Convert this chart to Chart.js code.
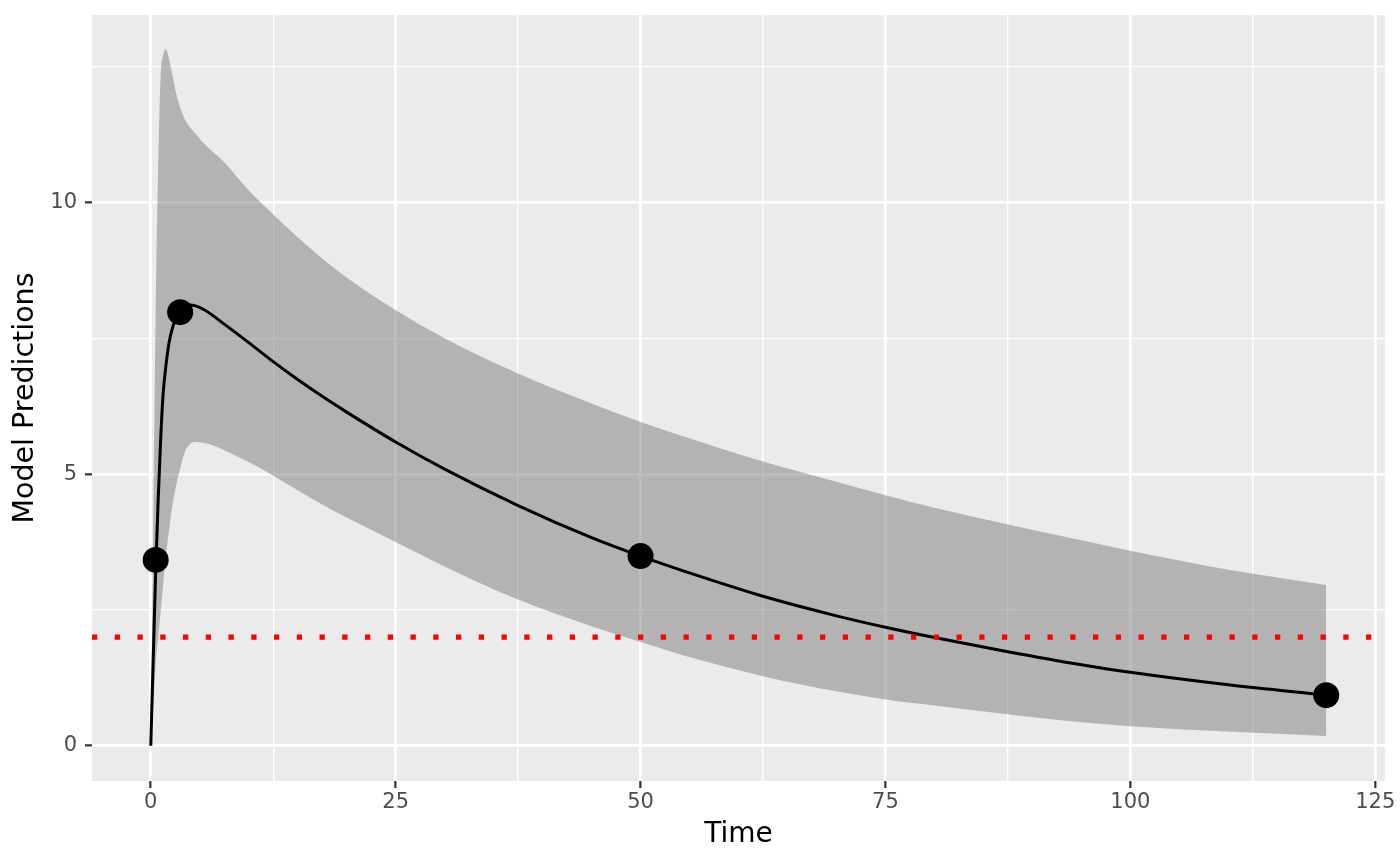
<!DOCTYPE html>
<html>
<head>
<meta charset="utf-8">
<script src="https://cdn.jsdelivr.net/npm/chart.js@4.4.1/dist/chart.umd.min.js"></script>
<style>
html,body{margin:0;padding:0;background:#ffffff;}
#wrap{width:1400px;height:865px;position:relative;}
</style>
</head>
<body>
<div id="wrap"><canvas id="c"></canvas></div>
<script>
// ---- data ----
const times     = [0, 0.25, 0.5, 0.75, 1.0, 1.25, 1.55, 1.85, 2.2, 2.6, 3.0, 3.5, 4.0, 4.5, 5.5, 7.5, 10, 12.5, 15, 17.5, 20, 25, 30, 37.5, 45, 50, 56, 62.5, 70, 75, 80, 87.5, 95, 100, 110, 120];
const meanPred  = [0, 1.6, 3.2, 4.5, 5.6, 6.45, 7.0, 7.4, 7.68, 7.88, 8.0, 8.08, 8.11, 8.1, 8.02, 7.76, 7.42, 7.07, 6.74, 6.43, 6.14, 5.59, 5.09, 4.42, 3.83, 3.49, 3.12, 2.75, 2.39, 2.18, 1.99, 1.73, 1.49, 1.35, 1.12, 0.93];
const upperPred = [0, 4.0, 8.0, 10.6, 12.3, 12.7, 12.82, 12.65, 12.35, 12.0, 11.75, 11.52, 11.38, 11.28, 11.07, 10.74, 10.22, 9.78, 9.36, 8.97, 8.62, 8.02, 7.5, 6.85, 6.3, 5.96, 5.6, 5.23, 4.86, 4.61, 4.38, 4.07, 3.78, 3.59, 3.24, 2.96];
const lowerPred = [0, 0.7, 1.5, 1.98, 2.45, 2.95, 3.5, 3.95, 4.42, 4.8, 5.1, 5.42, 5.55, 5.59, 5.57, 5.44, 5.22, 4.97, 4.70, 4.44, 4.2, 3.75, 3.3, 2.69, 2.2, 1.91, 1.58, 1.28, 1.0, 0.85, 0.74, 0.58, 0.43, 0.36, 0.26, 0.18];
const obsTimes  = [0.5, 3, 50, 120];
const obsValues = [3.42, 7.98, 3.49, 0.93];
const threshold = 2;
const xMajorTicks = [0, 25, 50, 75, 100, 125];
const yMajorTicks = [0, 5, 10];
const xLimits = [-6, 126];
const yLimits = [-0.65, 13.45];

const toXY = (xs, ys) => xs.map((x, i) => ({x: x, y: ys[i]}));

const panelBg = {
  id: 'panelBg',
  beforeDraw(chart) {
    const {ctx, chartArea: a} = chart;
    ctx.save();
    ctx.fillStyle = '#ffffff';
    ctx.fillRect(0, 0, chart.width, chart.height);
    ctx.fillStyle = '#EBEBEB';
    ctx.fillRect(a.left, a.top, a.right - a.left, a.bottom - a.top);
    ctx.restore();
  }
};

const isMajor = (v, list) => list.some(m => Math.abs(m - v) < 1e-9);

new Chart(document.getElementById('c'), {
  type: 'line',
  data: {
    datasets: [
      {
        label: 'obs',
        data: toXY(obsTimes, obsValues),
        showLine: false,
        pointRadius: 13,
        pointBackgroundColor: '#000000',
        pointBorderWidth: 0,
        order: 0
      },
      {
        label: 'threshold',
        data: toXY(xLimits, [threshold, threshold]),
        borderColor: '#FF0000',
        borderWidth: 5.3,
        borderDash: [5.3, 17.45],
        borderCapStyle: 'butt',
        pointRadius: 0,
        fill: false,
        order: 1
      },
      {
        label: 'mean',
        data: toXY(times, meanPred),
        borderColor: '#000000',
        borderWidth: 3,
        pointRadius: 0,
        cubicInterpolationMode: 'monotone',
        fill: false,
        order: 2
      },
      {
        label: 'upper',
        data: toXY(times, upperPred),
        borderWidth: 0,
        borderColor: 'rgba(0,0,0,0)',
        backgroundColor: 'rgba(123,123,123,0.5)',
        pointRadius: 0,
        cubicInterpolationMode: 'monotone',
        fill: '+1',
        order: 3
      },
      {
        label: 'lower',
        data: toXY(times, lowerPred),
        borderWidth: 0,
        borderColor: 'rgba(0,0,0,0)',
        pointRadius: 0,
        cubicInterpolationMode: 'monotone',
        fill: false,
        order: 4
      }
    ]
  },
  options: {
    responsive: true,
    maintainAspectRatio: false,
    animation: false,
    devicePixelRatio: 1,
    layout: {padding: {top: 15, right: 15, left: 0, bottom: 0}},
    plugins: {legend: {display: false}, tooltip: {enabled: false}},
    scales: {
      x: {
        type: 'linear',
        min: xLimits[0], max: xLimits[1],
        afterFit(s) { s.height = 84; s.paddingLeft = 0; s.paddingRight = 0; },
        border: {display: false},
        grid: {
          color: '#FFFFFF',
          lineWidth: c => isMajor(c.tick.value, xMajorTicks) ? 2.7 : 1.35,
          drawTicks: true,
          tickLength: 7,
          tickWidth: 2.2,
          tickColor: c => isMajor(c.tick.value, xMajorTicks) ? '#333333' : 'rgba(0,0,0,0)'
        },
        ticks: {
          stepSize: 12.5,
          includeBounds: false,
          autoSkip: false,
          maxRotation: 0,
          padding: 2,
          color: '#4D4D4D',
          font: {family: 'DejaVu Sans', size: 21},
          callback: v => isMajor(v, xMajorTicks) ? String(v) : ''
        },
        title: {
          display: true,
          text: 'Time',
          color: '#000000',
          font: {family: 'DejaVu Sans', size: 28},
          padding: {top: 0, bottom: 13.4}
        }
      },
      y: {
        type: 'linear',
        min: yLimits[0], max: yLimits[1],
        afterFit(s) { s.width = 92; s.paddingTop = 0; s.paddingBottom = 0; },
        border: {display: false},
        grid: {
          color: '#FFFFFF',
          lineWidth: c => isMajor(c.tick.value, yMajorTicks) ? 2.7 : 1.35,
          drawTicks: true,
          tickLength: 7,
          tickWidth: 2.2,
          tickColor: c => isMajor(c.tick.value, yMajorTicks) ? '#333333' : 'rgba(0,0,0,0)'
        },
        ticks: {
          stepSize: 2.5,
          includeBounds: false,
          autoSkip: false,
          padding: 8,
          color: '#4D4D4D',
          font: {family: 'DejaVu Sans', size: 21},
          callback: v => isMajor(v, yMajorTicks) ? String(v) : ''
        },
        title: {
          display: true,
          text: 'Model Predictions',
          color: '#000000',
          font: {family: 'DejaVu Sans', size: 28.5},
          padding: {top: 8, bottom: 0}
        }
      }
    }
  },
  plugins: [panelBg]
});
</script>
</body>
</html>
